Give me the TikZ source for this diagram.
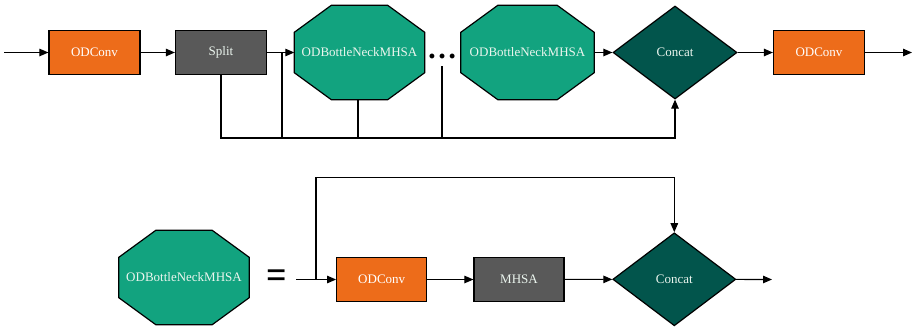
\documentclass[tikz,border=0pt]{standalone}
\usepackage{fontspec}
\setmainfont{Liberation Serif}
\usetikzlibrary{arrows.meta,shapes.geometric,calc,backgrounds}
\definecolor{odorange}{RGB}{237,108,26}
\definecolor{odgray}{RGB}{89,89,89}
\definecolor{odgreen}{RGB}{18,163,127}
\definecolor{odteal}{RGB}{2,85,76}
\definecolor{lighttext}{RGB}{235,245,238}
\tikzset{
  line/.style={line width=1.1pt, draw=black},
  arr/.style={line, -{Triangle[length=9pt,width=7.5pt]}},
  boxbase/.style={rectangle, draw=black, line width=1.2pt, minimum width=91pt, minimum height=44pt, inner sep=0pt, font=\fontsize{13}{15}\selectfont},
  convbox/.style={boxbase, fill=odorange, text=white},
  graybox/.style={boxbase, fill=odgray, text=lighttext},
  octbox/.style={rectangle, minimum width=130pt, minimum height=94pt, inner sep=0pt, text=lighttext, font=\fontsize{13}{15}\selectfont},
  octline/.style={fill=odgreen, draw=black, line width=1.2pt, line join=miter},
  concatbox/.style={diamond, draw=black, line width=1.2pt, fill=odteal, text=lighttext, minimum width=124pt, minimum height=93pt, inner sep=0pt, font=\fontsize{13}{15}\selectfont},
}
\newcommand{\octoutline}[1]{%
  \begin{scope}[on background layer]
  \draw[octline] ($(#1.north west)+(37,0)$) -- ($(#1.north east)+(-37,0)$) -- ($(#1.north east)+(0,27)$) -- ($(#1.south east)+(0,-27)$) -- ($(#1.south east)+(-37,0)$) -- ($(#1.south west)+(37,0)$) -- ($(#1.south west)+(0,-27)$) -- ($(#1.north west)+(0,27)$) -- cycle;
  \end{scope}}
\begin{document}
\begin{tikzpicture}[x=1pt,y=-1pt]
\useasboundingbox (0,0) rectangle (917,327);
% top row
\coordinate (in) at (4,52.5);
\node[convbox] (odc1) at (94.5,52.5) {ODConv};
\node[graybox] (split) at (221,52.5) {Split};
\node[octbox] (oct1) at (359.5,52.5) {ODBottleNeckMHSA};
\octoutline{oct1}
\node[anchor=base, inner sep=0pt, font=\fontsize{30}{30}\selectfont\bfseries] (dots) at (442,58.5) {…};
\node[octbox, minimum width=133pt] (oct2) at (527.5,52.5) {ODBottleNeckMHSA};
\octoutline{oct2}
\node[concatbox] (concat) at (675,52.5) {Concat};
\node[convbox] (odc2) at (819,52.5) {ODConv};
\coordinate (out) at (912,52.5);
\coordinate (bus) at (221,138);
\coordinate (tap) at (282,52.5);
\coordinate (dtap) at (442,66);
\coordinate (otap) at (358,99.5);
\draw[arr] (in) -- (odc1);
\draw[arr] (odc1) -- (split);
\draw[arr] (split) -- (oct1);
\draw[arr] (oct2) -- (concat);
\draw[arr] (concat) -- (odc2);
\draw[arr] (odc2) -- (out);
\draw[arr] (split.south) |- (concat.south |- bus) -- (concat.south);
\draw[line] (tap) -- (tap |- bus);
\draw[line] (otap) -- (otap |- bus);
\draw[line] (dtap) -- (dtap |- bus);
% bottom row
\node[octbox] (oct3) at (184,277.5) {ODBottleNeckMHSA};
\octoutline{oct3}
\node[inner sep=0pt, font=\fontsize{40}{40}\selectfont\bfseries, xscale=0.9] (eq) at (277,279) {=};
\coordinate (bin) at (296,279.5);
\coordinate (br) at (316,279.5);
\coordinate (topbus) at (316,177.5);
\node[convbox, minimum width=90pt] (odc3) at (381.7,279.5) {ODConv};
\node[graybox, minimum width=90pt] (mhsa) at (519,279.5) {MHSA};
\node[concatbox, minimum width=123pt] (concat2) at (674.3,279.3) {Concat};
\coordinate (bout) at (772,279.5);
\draw[arr] (bin) -- (odc3);
\draw[arr] (odc3) -- (mhsa);
\draw[arr] (mhsa) -- (concat2);
\draw[arr] (concat2) -- (bout);
\draw[arr] (br) -- (topbus) -- (concat2.north |- topbus) -- (concat2.north);
\end{tikzpicture}
\end{document}
